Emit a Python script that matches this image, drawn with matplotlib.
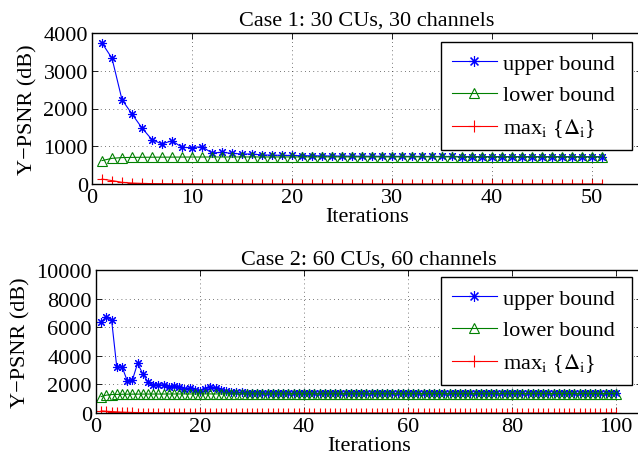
import numpy as np
import matplotlib
matplotlib.use('Agg')
import matplotlib.pyplot as plt

plt.rcParams['font.family'] = ['Liberation Serif', 'DejaVu Serif']
plt.rcParams['mathtext.fontset'] = 'stix'
plt.rcParams['font.size'] = 16

# case 1: 30 CUs, 30 channels
iters1 = list(range(1, 52))
upper1 = [3735, 3330, 2233, 1854, 1483, 1174, 1060, 1148, 970, 962,
          989, 821, 839, 812, 795, 795, 770, 765, 760, 755,
          750, 748, 745, 742, 740, 738, 736, 735, 734, 733,
          732, 731, 730, 730, 729, 729, 728, 728, 727, 727,
          726, 726, 726, 725, 725, 725, 725, 724, 724, 724, 724]
lower1 = [620, 680, 700, 705, 708, 710, 711, 712, 713, 714,
          714, 715, 715, 715, 716, 716, 716, 716, 717, 717,
          717, 717, 717, 718, 718, 718, 718, 718, 718, 718,
          719, 719, 719, 719, 719, 719, 719, 719, 719, 720,
          720, 720, 720, 720, 720, 720, 720, 720, 720, 720, 720]
delta1 = [130, 90, 45, 25, 15, 10, 8, 6, 5, 4,
          3, 3, 2, 2, 2, 1, 1, 1, 1, 1,
          1, 1, 1, 1, 1, 1, 1, 1, 1, 1,
          0, 0, 0, 0, 0, 0, 0, 0, 0, 0,
          0, 0, 0, 0, 0, 0, 0, 0, 0, 0, 0]

# case 2: 60 CUs, 60 channels
iters2 = list(range(1, 101))
upper2 = [6385, 6734, 6500, 3196, 3238, 2259, 2308, 3476, 2727, 2168,
          1958, 1979, 1958, 1797, 1909, 1797, 1678, 1748, 1608, 1559,
          1678, 1839, 1748, 1608, 1550, 1500, 1480, 1450, 1430, 1420,
          1410, 1430, 1400, 1410, 1395, 1400, 1390, 1395, 1385, 1390,
          1385, 1385, 1380, 1385, 1380, 1380, 1380, 1378, 1380, 1378,
          1378, 1376, 1378, 1376, 1376, 1375, 1376, 1375, 1375, 1374,
          1375, 1374, 1374, 1373, 1374, 1373, 1373, 1372, 1373, 1372,
          1372, 1372, 1371, 1372, 1371, 1371, 1371, 1370, 1371, 1370,
          1370, 1370, 1370, 1370, 1369, 1370, 1369, 1369, 1369, 1369,
          1369, 1368, 1369, 1368, 1368, 1368, 1368, 1368, 1368, 1368]
lower2 = [1150, 1250, 1290, 1300, 1310, 1315, 1318, 1320, 1322, 1324,
          1325, 1326, 1327, 1328, 1329, 1330, 1330, 1331, 1331, 1332,
          1332, 1333, 1333, 1334, 1334, 1335, 1335, 1335, 1336, 1336,
          1336, 1337, 1337, 1337, 1338, 1338, 1338, 1339, 1339, 1339,
          1340, 1340, 1340, 1340, 1341, 1341, 1341, 1341, 1342, 1342,
          1342, 1342, 1343, 1343, 1343, 1343, 1344, 1344, 1344, 1344,
          1345, 1345, 1345, 1345, 1345, 1346, 1346, 1346, 1346, 1346,
          1347, 1347, 1347, 1347, 1347, 1348, 1348, 1348, 1348, 1348,
          1349, 1349, 1349, 1349, 1349, 1350, 1350, 1350, 1350, 1350,
          1350, 1351, 1351, 1351, 1351, 1351, 1352, 1352, 1352, 1352]
delta2 = [150, 120, 100, 80, 60, 45, 35, 28, 22, 18,
          15, 12, 10, 8, 7, 6, 5, 4, 4, 3] + [2] * 20 + [1] * 30 + [0] * 30

titles = ['Case 1: 30 CUs, 30 channels', 'Case 2: 60 CUs, 60 channels']
labels = ['upper bound ', 'lower bound', r'max$_{\mathrm{i}}$ {$\Delta_{\mathrm{i}}$}']

fig = plt.figure(figsize=(6.38, 4.6), dpi=100)
ax1 = fig.add_axes([92 / 638, 1 - 185 / 460, 550 / 638, 151 / 460])
ax2 = fig.add_axes([96 / 638, 1 - 414 / 460, 546 / 638, 143 / 460])

panels = [
    (ax1, iters1, upper1, lower1, delta1, 55, np.arange(0, 51, 10), 4000, np.arange(0, 4001, 1000), 43),
    (ax2, iters2, upper2, lower2, delta2, 105, np.arange(0, 101, 20), 10000, np.arange(0, 10001, 2000), 278),
]

for ax, x, up, lo, dl, xmax, xt, ymax, yt, leg_top in panels:
    ax.plot(x, up, color='blue', lw=0.8, marker=(8, 2, 0), ms=6.5, mew=0.8, label=labels[0])
    ax.plot(x, lo, color='green', lw=0.8, marker='^', ms=6.5, mfc='none', mew=0.8, label=labels[1])
    ax.plot(x, dl, color='red', lw=0.8, marker='+', ms=7, mew=0.8, label=labels[2])
    ax.set_xlim(0, xmax)
    ax.set_ylim(0, ymax)
    ax.set_xticks(xt)
    ax.set_yticks(yt)
    ax.tick_params(direction='in', top=True, right=True, length=4, width=0.6, pad=3)
    ax.grid(True, linestyle=(0, (1, 4)), color='black', lw=0.6, alpha=0.7)
    ax.set_xlabel('Iterations', labelpad=0)
    ax.set_ylabel('Y\u2212PSNR (dB)', labelpad=4)
    for sp in ax.spines.values():
        sp.set_linewidth(1.0)
    ax.spines['right'].set_visible(False)
    leg = ax.legend(loc='upper left', bbox_to_anchor=(441 / 638, 1 - leg_top / 460),
                    bbox_transform=fig.transFigure, borderaxespad=0, fancybox=False,
                    framealpha=1, edgecolor='black', handlelength=2.0, handletextpad=0.3,
                    labelspacing=0.5, borderpad=0.5, fontsize=16, markerscale=1.2)
    leg.get_frame().set_linewidth(1.0)

ax1.set_title(titles[0], fontsize=16, pad=6)
ax2.set_title(titles[1], fontsize=16, pad=5)

fig.savefig('out.png', dpi=100)
